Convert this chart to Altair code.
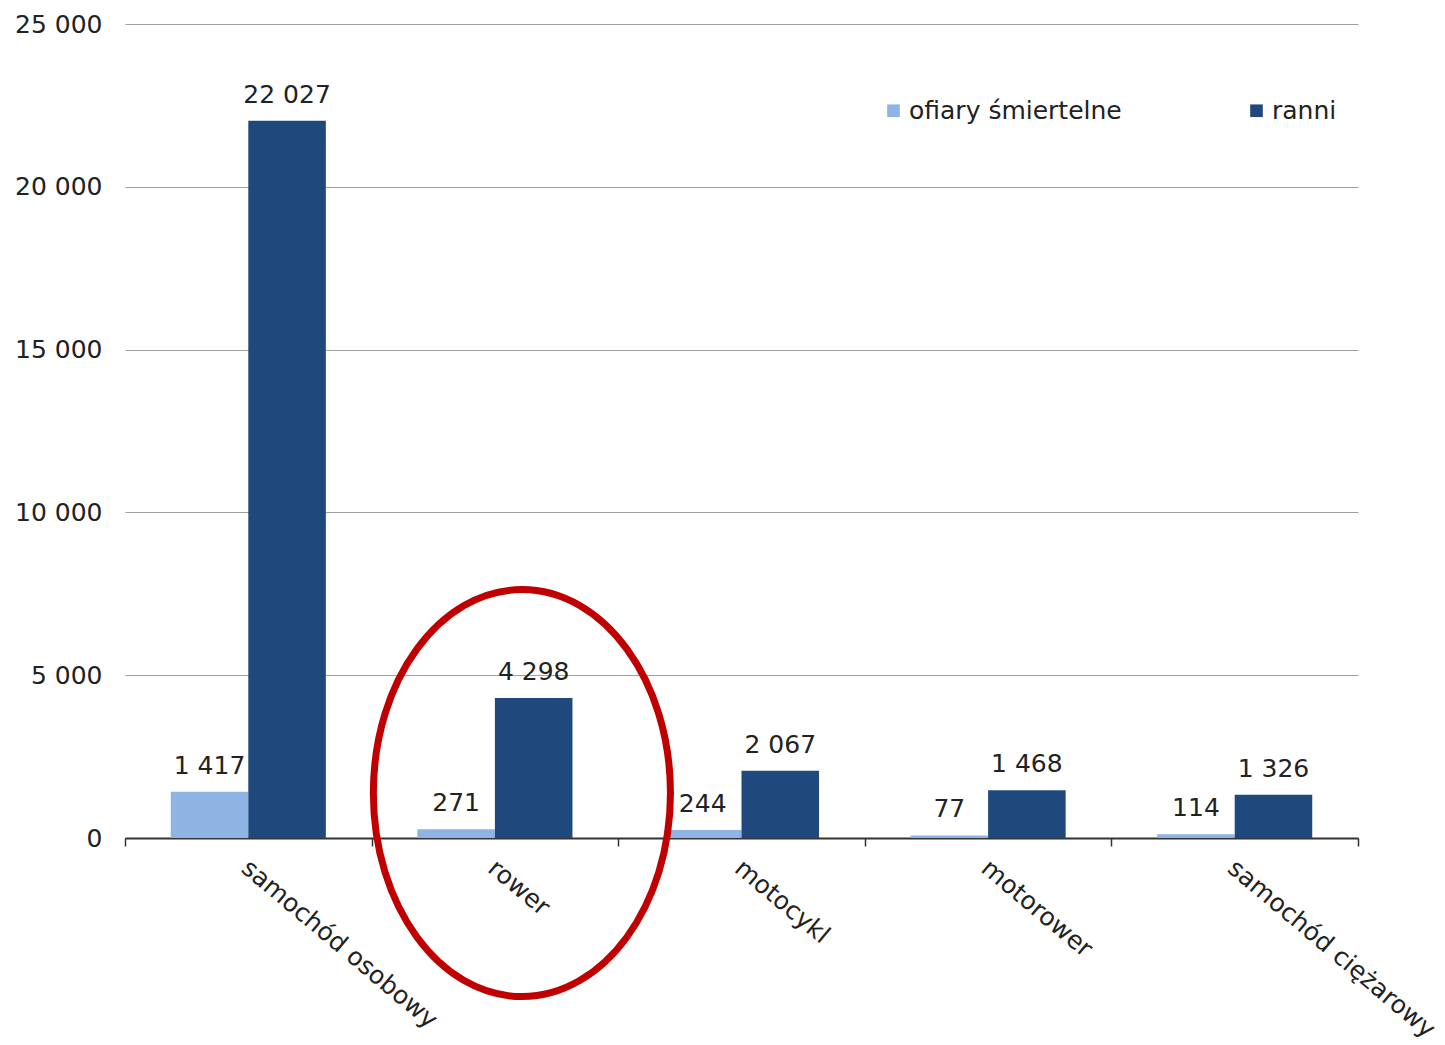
import altair as alt
import pandas as pd

categories = ["samochód osobowy", "rower", "motocykl", "motorower", "samochód ciężarowy"]
series = ["ofiary śmiertelne", "ranni"]
ofiary = [1417, 271, 244, 77, 114]
ranni = [22027, 4298, 2067, 1468, 1326]
colors = ["#8DB4E3", "#1F497D"]
y_ticks = [0, 5000, 10000, 15000, 20000, 25000]

highlight_category = ["rower"]
highlight_value = [1380]

rows = []
for c, a, b in zip(categories, ofiary, ranni):
    rows.append({"kat": c, "seria": series[0], "v": a})
    rows.append({"kat": c, "seria": series[1], "v": b})
df = pd.DataFrame(rows)
hl = pd.DataFrame({"kat": highlight_category, "v": highlight_value})

FONT = "DejaVu Sans"
FS = 25
TXT = "#222222"

x_enc = alt.X(
    "kat:N",
    sort=categories,
    title=None,
    scale=alt.Scale(paddingInner=0, paddingOuter=0),
    axis=alt.Axis(
        labelAngle=40,
        labelAlign="left",
        labelBaseline="top",
        labelFont=FONT,
        labelFontSize=FS,
        labelColor=TXT,
        labelPadding=9,
        labelLimit=400,
        labelOffset=4,
        tickBand="extent",
        tickSize=8,
        tickColor="#333333",
        tickWidth=1.5,
        domainColor="#333333",
        domainWidth=2,
        grid=False,
    ),
)
y_enc = alt.Y(
    "v:Q",
    title=None,
    scale=alt.Scale(domain=[0, 25000], nice=False),
    axis=alt.Axis(
        values=y_ticks,
        labelExpr="replace(format(datum.value, ','), ',', ' ')",
        labelFont=FONT,
        labelFontSize=FS,
        labelColor=TXT,
        labelPadding=23,
        domain=False,
        ticks=False,
        grid=True,
        gridColor="#A0A0A0",
        gridWidth=1.2,
    ),
)
xoff = alt.XOffset(
    "seria:N",
    sort=series,
    scale=alt.Scale(paddingInner=0, paddingOuter=0.59),
)
color_enc = alt.Color(
    "seria:N",
    sort=series,
    scale=alt.Scale(domain=series, range=colors),
    legend=alt.Legend(
        title=None,
        orient="none",
        legendX=756,
        legendY=74,
        direction="horizontal",
        symbolType="square",
        symbolSize=160,
        symbolStrokeWidth=0,
        labelFont=FONT,
        labelFontSize=FS,
        labelColor=TXT,
        labelOffset=3,
        columnPadding=122,
        labelLimit=400,
    ),
)

bars = alt.Chart(df).mark_bar(stroke=None).encode(
    x=x_enc, y=y_enc, xOffset=xoff, color=color_enc
)

labels = alt.Chart(df).transform_calculate(
    lab="replace(format(datum.v, ','), ',', ' ')"
).mark_text(
    font=FONT, fontSize=FS, color=TXT, baseline="alphabetic", dy=-18
).encode(
    x=alt.X("kat:N", sort=categories),
    xOffset=alt.XOffset("seria:N", sort=series),
    y="v:Q",
    text="lab:N",
)

ellipse_path = "M -0.73 0 A 0.73 1 0 1 0 0.73 0 A 0.73 1 0 1 0 -0.73 0 Z"
ellipse = alt.Chart(hl).mark_point(
    shape=ellipse_path,
    size=165649,
    filled=False,
    stroke="#C00000",
    strokeWidth=7,
    opacity=1,
    xOffset=27,
).encode(
    x=alt.X("kat:N", sort=categories),
    y="v:Q",
)

chart = alt.layer(bars, labels, ellipse).properties(
    width=1233,
    height=814,
    background="white",
    autosize=alt.AutoSizeParams(type="none"),
    padding={"left": 125, "top": 24, "right": 87, "bottom": 207},
).configure_view(strokeWidth=0, stroke=None)

chart.save("out.html", embed_options={"renderer": "svg", "actions": False})
